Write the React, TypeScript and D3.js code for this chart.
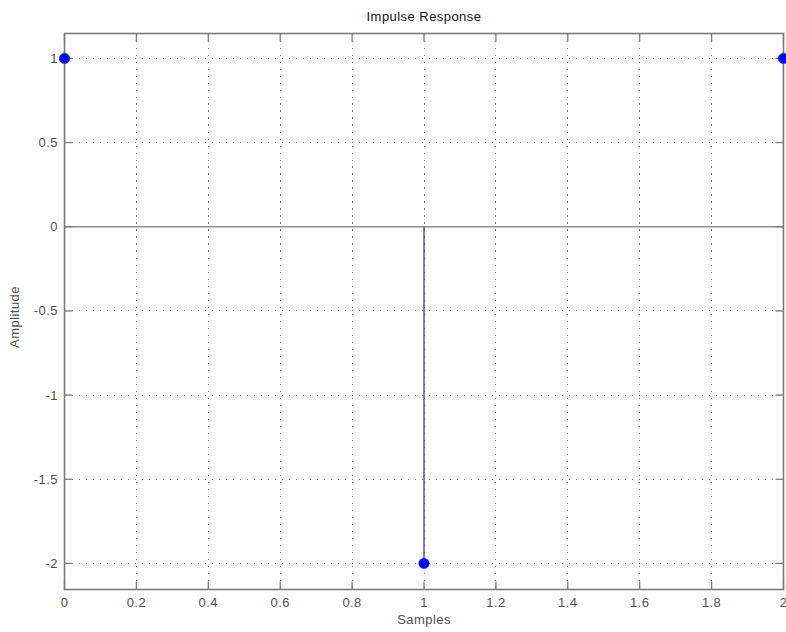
import React from "react";
import * as d3 from "d3";

const samples = [0, 1, 2];
const amplitudes = [1, -2, 1];
const xTicks = [0, 0.2, 0.4, 0.6, 0.8, 1, 1.2, 1.4, 1.6, 1.8, 2];
const yTicks = [1, 0.5, 0, -0.5, -1, -1.5, -2];
const xDomain = [0, 2];
const yDomain = [-2.155, 1.148];

const W = 786, H = 632;
const L = 64.5, R = 783.5, T = 33.5, B = 589.5;

export default function App() {
  const x = d3.scaleLinear().domain(xDomain).range([L, R]);
  const y = d3.scaleLinear().domain(yDomain).range([B, T]);
  const axisColor = "#7a7a7a";
  const textColor = "#4f4f4f";
  const font = "'Liberation Sans', Arial, sans-serif";
  const ls = 0.45;
  const px = (v: number) => Math.round(v - 0.5) + 0.5;
  return (
    <svg width={W} height={H} style={{ position: "absolute", left: 0, top: 0, background: "#fff" }}>
      <defs>
        <clipPath id="plotClip">
          <rect x={L + 0.9} y={T} width={R - L - 1.8} height={B - T} />
        </clipPath>
      </defs>
      <rect x={0} y={0} width={W} height={H} fill="#fff" />
      {/* grid */}
      <g shapeRendering="crispEdges">
        {xTicks.map((t) => (
          <line key={"gx" + t} x1={px(x(t))} x2={px(x(t))} y1={T} y2={B}
            stroke="#6e6e6e" strokeWidth={1} strokeDasharray="1.5,5.5" />
        ))}
        {yTicks.map((t) => (
          <line key={"gy" + t} x1={L} x2={R} y1={px(y(t))} y2={px(y(t))}
            stroke="#6e6e6e" strokeWidth={1} strokeDasharray="1.5,5.5" />
        ))}
      </g>
      {/* zero baseline */}
      <line x1={L} x2={R} y1={y(0)} y2={y(0)} stroke="#8c8c8c" strokeWidth={1.3} />
      {/* stems */}
      <g clipPath="url(#plotClip)">
        {samples.map((s, i) => (
          <line key={"s" + i} x1={x(s)} x2={x(s)} y1={y(0)} y2={y(amplitudes[i])} stroke="#2a2aff" strokeWidth={1.3} />
        ))}
      </g>
      {/* axes box */}
      <rect x={L} y={T} width={R - L} height={B - T} fill="none" stroke={axisColor} strokeWidth={1.6} />
      {/* ticks */}
      {xTicks.map((t) => (
        <g key={"tx" + t}>
          <line x1={x(t)} x2={x(t)} y1={B} y2={B - 8} stroke={axisColor} strokeWidth={1.3} />
          <line x1={x(t)} x2={x(t)} y1={T} y2={T + 8} stroke={axisColor} strokeWidth={1.3} />
          <text x={x(t)} y={607} textAnchor="middle" fontFamily={font} fontSize={13} letterSpacing={ls} fill={textColor}>{String(t)}</text>
        </g>
      ))}
      {yTicks.map((t) => (
        <g key={"ty" + t}>
          <line x1={L} x2={L + 8} y1={y(t)} y2={y(t)} stroke={axisColor} strokeWidth={1.3} />
          <line x1={R} x2={R - 8} y1={y(t)} y2={y(t)} stroke={axisColor} strokeWidth={1.3} />
          <text x={58} y={y(t) + 4.5} textAnchor="end" fontFamily={font} fontSize={13} letterSpacing={ls} fill={textColor}>{String(t)}</text>
        </g>
      ))}
      {/* markers */}
      {samples.map((s, i) => (
        <circle key={"m" + i} cx={x(s)} cy={y(amplitudes[i])} r={5.2} fill="#0000ff" stroke="#0000ff" strokeWidth={0.5} />
      ))}
      {/* labels */}
      <text x={(L + R) / 2} y={21} textAnchor="middle" fontFamily={font} fontSize={13} letterSpacing={ls} fill="#111">Impulse Response</text>
      <text x={(L + R) / 2} y={624} textAnchor="middle" fontFamily={font} fontSize={13} letterSpacing={ls} fill={textColor}>Samples</text>
      <text transform={`translate(19, 317) rotate(-90)`} textAnchor="middle" fontFamily={font} fontSize={13} letterSpacing={ls} fill={textColor}>Amplitude</text>
    </svg>
  );
}
